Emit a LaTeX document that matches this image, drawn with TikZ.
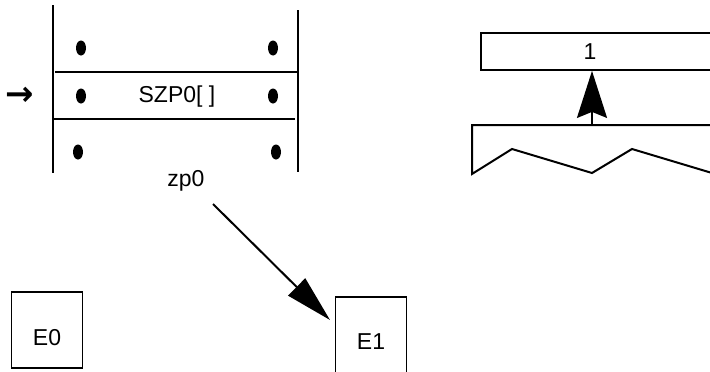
\documentclass[tikz,border=0pt]{standalone}
\usepackage{fontspec}
\setmainfont{Liberation Sans}
\newfontfamily\symfont{DejaVu Sans}
\usetikzlibrary{arrows.meta}

\begin{document}
\begin{tikzpicture}[x=1pt,y=-1pt,line width=2pt,
  lbl/.style={font=\fontsize{23}{27}\selectfont, inner sep=0pt},
  ebox/.style={draw, line width=1.6pt, minimum width=71pt, font=\fontsize{23}{27}\selectfont},
  regdot/.style={fill=black, draw=none}]
\useasboundingbox (0,0) rectangle (710,372);
% register stack
\draw (53,5) -- (53,173);
\draw (298,10) -- (298,172);
\draw (55,72) -- (298,72);
\draw (53,119) -- (295,119);
\fill[regdot] (81,48) ellipse [x radius=5pt, y radius=7.5pt];
\fill[regdot] (273,48) ellipse [x radius=5pt, y radius=7.5pt];
\fill[regdot] (81,96) ellipse [x radius=5pt, y radius=7.5pt];
\fill[regdot] (273,96) ellipse [x radius=5pt, y radius=7.5pt];
\fill[regdot] (78,152) ellipse [x radius=5pt, y radius=7.5pt];
\fill[regdot] (276,152) ellipse [x radius=5pt, y radius=7.5pt];
\node[lbl] (szp) at (177,97) {SZP0[ ]};
\node[inner sep=0pt, font=\fontsize{34}{36}\selectfont] (cur) at (20,96) {\symfont\bfseries →};
\node[lbl] (zp) at (186,181) {zp0};
% element boxes
\node[ebox, minimum height=76pt, text height=30pt, text depth=0pt] (E0) at (47,330) {E0};
\node[ebox, minimum height=90pt] (E1) at (371,342) {E1};
\coordinate (zpfrom) at (213,204);
\coordinate (zpto) at (330,320);
\draw[-{Triangle[length=47pt,width=24pt]}] (zpfrom) -- (zpto);
% stack on the right
\node[draw, line width=1.8pt, minimum width=240pt, minimum height=37pt, inner sep=0pt] (onebox) at (601,51.5) {};
\node[lbl] (one) at (590,52) {1};
\draw[line join=miter] (722,125) -- (472,125) -- (472,174) -- (512,149) -- (592,173) -- (632,149) -- (722,176);
\coordinate (wavetop) at (592,125);
\draw[-{Stealth[length=47pt,width=30pt,inset=6pt]}] (wavetop) -- (wavetop |- onebox.south);
\end{tikzpicture}
\end{document}
